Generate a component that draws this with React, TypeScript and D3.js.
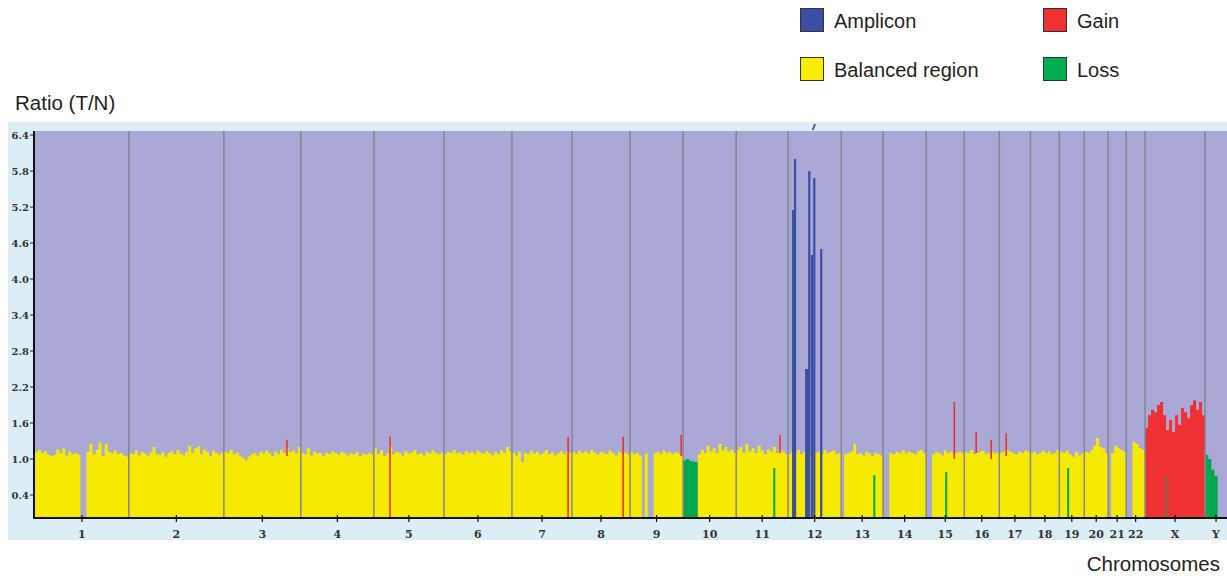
import React from 'react';
import * as d3 from 'd3';

// chromosome order and (approximate, as drawn) lengths in Mb
const chromosomes = ['1', '2', '3', '4', '5', '6', '7', '8', '9', '10', '11', '12', '13', '14', '15', '16', '17', '18', '19', '20', '21', '22', 'X', 'Y'];
const chromLengthMb = [244, 247, 200, 190, 182, 177, 156, 151, 138, 138, 135, 138, 109, 112, 99, 91, 81, 75, 65, 62, 47, 49, 156, 57];

// T/N ratio per evenly spaced bin along each chromosome (0 = no probes)
const binRatios: number[][] = [
  [1.12, 1.15, 1.10, 1.13, 1.08, 1.05, 1.07, 1.16, 1.10, 1.18, 1.06, 1.12, 1.08, 1.10, 1.07, 0, 0, 1.12, 1.26, 1.08, 1.15, 1.27, 1.05, 1.25, 1.12, 1.10, 1.14, 1.08, 1.10, 1.06, 1.04],
  [1.10, 1.08, 1.14, 1.06, 1.12, 1.09, 1.05, 1.11, 1.20, 1.08, 1.07, 1.12, 1.04, 1.10, 1.13, 1.08, 1.15, 1.09, 1.06, 1.12, 1.22, 1.10, 1.18, 1.21, 1.08, 1.16, 1.12, 1.05, 1.14, 1.10, 1.07, 1.11],
  [1.12, 1.10, 1.15, 1.08, 1.11, 1.06, 1.02, 0.98, 1.04, 1.08, 1.10, 1.06, 1.12, 1.09, 1.14, 1.10, 1.05, 1.12, 1.08, 1.16, 1.10, 1.18, 1.12, 1.14, 1.09, 1.20],
  [1.10, 1.08, 1.18, 1.06, 1.12, 1.09, 1.10, 1.05, 1.11, 1.08, 1.13, 1.10, 1.07, 1.12, 1.09, 1.06, 1.10, 1.08, 1.12, 1.05, 1.09, 1.07, 1.10, 1.08],
  [1.18, 1.08, 1.14, 1.05, 1.10, 1.20, 1.08, 1.12, 1.10, 1.06, 1.13, 1.09, 1.11, 1.15, 1.08, 1.10, 1.06, 1.12, 1.09, 1.14, 1.10, 1.08, 1.11],
  [1.08, 1.12, 1.10, 1.15, 1.09, 1.11, 1.07, 1.13, 1.10, 1.12, 1.08, 1.14, 1.11, 1.09, 1.13, 1.10, 1.06, 1.12, 1.08, 1.15, 1.10, 1.20, 1.12],
  [1.10, 1.06, 1.12, 0.95, 1.10, 1.08, 1.14, 1.09, 1.12, 1.07, 1.10, 1.15, 1.08, 1.11, 1.06, 1.10, 1.13, 1.08, 1.12, 1.10],
  [1.12, 1.08, 1.14, 1.10, 1.13, 1.09, 1.15, 1.11, 1.07, 1.12, 1.10, 1.08, 1.14, 1.10, 1.06, 1.12, 1.09, 1.11, 1.08],
  [1.12, 1.08, 1.10, 1.06, 0, 1.09, 0, 0, 1.10, 1.12, 1.08, 1.14, 1.10, 1.12, 1.08, 1.11, 1.09, 1.10],
  [0.98, 1.0, 0.97, 0.96, 0.95, 1.08, 1.15, 1.10, 1.22, 1.12, 1.18, 1.10, 1.25, 1.14, 1.20, 1.12, 1.16, 1.10],
  [1.15, 1.20, 1.10, 1.25, 1.12, 1.18, 1.10, 1.22, 1.14, 1.08, 1.16, 1.12, 1.20, 1.10, 1.15, 1.12, 1.08],
  [1.08, 1.12, 1.10, 1.15, 1.08, 1.12, 1.10, 1.06, 1.14, 1.10, 1.12, 1.08, 1.15, 1.10, 1.12, 1.14, 1.08, 1.10],
  [0, 1.08, 1.10, 1.12, 1.25, 1.08, 1.10, 1.06, 1.12, 1.09, 1.05, 1.10, 1.08, 1.06],
  [0, 0, 1.10, 1.08, 1.12, 1.10, 1.14, 1.09, 1.12, 1.10, 1.08, 1.13, 1.15, 1.10],
  [0, 0, 1.08, 1.12, 1.10, 1.06, 1.14, 1.10, 1.12, 1.08, 1.10, 1.12, 1.09],
  [1.12, 1.10, 1.15, 1.08, 1.10, 1.12, 1.14, 1.08, 1.10, 1.12, 1.09, 1.11],
  [1.10, 1.12, 1.15, 1.12, 1.10, 1.08, 1.12, 1.10, 1.14, 1.12],
  [1.10, 1.12, 1.08, 1.10, 1.14, 1.10, 1.12, 1.08, 1.10, 1.15],
  [1.12, 1.10, 1.14, 1.08, 1.04, 1.12, 1.06, 1.10],
  [1.12, 1.10, 1.15, 1.22, 1.35, 1.20, 1.18, 1.10],
  [0, 1.10, 1.22, 1.18, 1.15, 1.12],
  [0, 0, 1.28, 1.25, 1.18, 1.15],
  [1.52, 1.73, 1.82, 1.78, 1.90, 1.95, 1.73, 1.48, 1.65, 1.45, 1.73, 1.57, 1.85, 1.78, 1.68, 1.90, 1.98, 1.82, 1.95, 1.73],
  [1.07, 1.0, 0.82, 0.72, 0, 0, 0],
];

// called segments (everything else is balanced)
const gainSegments = [{ chr: 'X', start: 0, end: 156 }];
const lossSegments = [{ chr: '10', start: 0, end: 37 }, { chr: 'Y', start: 0, end: 57 }];

// single-probe calls
const gainSpikes = [
  { chr: '3', mb: 164, from: 1.05, to: 1.32 },
  { chr: '5', mb: 42, from: 0, to: 1.37 },
  { chr: '7', mb: 146, from: 0, to: 1.37 },
  { chr: '8', mb: 133, from: 0, to: 1.37 },
  { chr: '9', mb: 133, from: 1.05, to: 1.4 },
  { chr: '11', mb: 114, from: 1.1, to: 1.4 },
  { chr: '15', mb: 73, from: 1.0, to: 1.95 },
  { chr: '16', mb: 31, from: 1.1, to: 1.45 },
  { chr: '16', mb: 70, from: 1.0, to: 1.32 },
  { chr: '17', mb: 18, from: 1.05, to: 1.43 },
];
const lossSpikes = [
  { chr: '11', mb: 99, to: 0.85 },
  { chr: '13', mb: 86, to: 0.73 },
  { chr: '15', mb: 52, to: 0.78 },
  { chr: '19', mb: 23, to: 0.85 },
  { chr: 'X', mb: 57, to: 0.73 },
];
const amplicons = [
  { chr: '12', mb: 13, ratio: 5.15 },
  { chr: '12', mb: 18, ratio: 6.0 },
  { chr: '12', mb: 47, ratio: 2.5 },
  { chr: '12', mb: 51, ratio: 2.5 },
  { chr: '12', mb: 55, ratio: 5.8 },
  { chr: '12', mb: 62, ratio: 4.4 },
  { chr: '12', mb: 68, ratio: 5.68 },
  { chr: '12', mb: 86, ratio: 4.5 },
];

const yTicks = [0.4, 1.0, 1.6, 2.2, 2.8, 3.4, 4.0, 4.6, 5.2, 5.8, 6.4];

const legendItems = [
  { label: 'Amplicon', color: '#3a4fa3', col: 0, row: 0 },
  { label: 'Gain', color: '#ee3133', col: 1, row: 0 },
  { label: 'Balanced region', color: '#f8ec00', col: 0, row: 1 },
  { label: 'Loss', color: '#00ad4e', col: 1, row: 1 },
];

const COLORS = {
  bg: '#aaa8d5',
  panel: '#dbeef6',
  balanced: '#f6ea00',
  gain: '#ee3133',
  loss: '#00a84f',
  amp: '#3a4fa3',
  divider: '#85849a',
};

export default function App() {
  const W = 1227;
  const H = 576;
  const plot = { left: 35, right: 1227, top: 131, bottom: 518 };

  const offsets = chromLengthMb.reduce<number[]>((acc, len, i) => {
    acc.push(i === 0 ? 0 : acc[i - 1] + chromLengthMb[i - 1]);
    return acc;
  }, []);
  const total = d3.sum(chromLengthMb);
  const offsetOf = (chr: string) => offsets[chromosomes.indexOf(chr)];

  const x = d3.scaleLinear().domain([0, total]).range([plot.left, plot.right]);
  const y = d3.scaleLinear().domain([0, 6.4]).range([519, 135]);

  const inSeg = (segs: { chr: string; start: number; end: number }[], chr: string, mb: number) =>
    segs.some(s => s.chr === chr && mb >= s.start && mb <= s.end);

  // group consecutive bins of the same call into runs, each drawn as one step area
  type Pt = { pos: number; v: number };
  const runs: { color: string; pts: Pt[] }[] = [];
  chromosomes.forEach((chr, ci) => {
    const vals = binRatios[ci];
    const bw = chromLengthMb[ci] / vals.length;
    let cur: { color: string; pts: Pt[] } | null = null;
    vals.forEach((v, i) => {
      const mid = (i + 0.5) * bw;
      let color = COLORS.balanced;
      if (inSeg(gainSegments, chr, mid)) color = COLORS.gain;
      if (inSeg(lossSegments, chr, mid)) color = COLORS.loss;
      if (!v) { cur = null; return; }
      const start = offsets[ci] + i * bw;
      if (!cur || cur.color !== color) {
        if (cur) cur.pts.push({ pos: start, v: cur.pts[cur.pts.length - 1].v });
        cur = { color, pts: [] };
        runs.push(cur);
      }
      cur.pts.push({ pos: start, v });
      const next = vals[i + 1];
      if (!next || i === vals.length - 1) cur.pts.push({ pos: start + bw, v });
    });
  });

  const area = d3.area<Pt>()
    .x(d => x(d.pos))
    .y0(plot.bottom)
    .y1(d => y(d.v))
    .curve(d3.curveStepAfter);

  const font = "'Liberation Sans', Arial, sans-serif";
  const tickFont = "'DejaVu Serif', serif";

  return (
    <svg width={W} height={H} style={{ position: 'absolute', left: 0, top: 0 }}>
      {/* legend */}
      {legendItems.map(d => {
        const lx = 800 + d.col * 243;
        const ly = 8 + d.row * 49;
        return (
          <g key={d.label}>
            <rect x={lx + 0.5} y={ly + 0.5} width={23} height={23} fill={d.color} stroke="#333" strokeWidth={1} />
            <text x={lx + 34} y={ly + 20} fontFamily={font} fontSize={20} fill="#231f20">{d.label}</text>
          </g>
        );
      })}

      <text x={15} y={110} fontFamily={font} fontSize={20.5} fill="#231f20">Ratio (T/N)</text>
      <text x={1220} y={571} textAnchor="end" fontFamily={font} fontSize={20.5} fill="#231f20">Chromosomes</text>

      {/* chart panel */}
      <rect x={8} y={122} width={W - 8} height={418} fill={COLORS.panel} />
      <rect x={plot.left} y={plot.top} width={plot.right - plot.left} height={plot.bottom - plot.top} fill={COLORS.bg} />

      {/* binned ratios */}
      <g>
        {runs.map((r, i) => (
          <path key={i} d={area(r.pts) || ''} fill={r.color} />
        ))}
      </g>

      {/* chromosome dividers */}
      {offsets.slice(1).map((o, i) => (
        <line key={i} x1={x(o)} x2={x(o)} y1={plot.top} y2={plot.bottom} stroke={COLORS.divider} strokeWidth={1.5} />
      ))}

      {/* single-probe calls */}
      {gainSpikes.map((d, i) => {
        const cx = x(offsetOf(d.chr) + d.mb);
        return <rect key={'g' + i} x={cx - 0.8} y={y(d.to)} width={1.6} height={(d.from ? y(d.from) : plot.bottom) - y(d.to)} fill={COLORS.gain} />;
      })}
      {lossSpikes.map((d, i) => {
        const cx = x(offsetOf(d.chr) + d.mb);
        const onGain = inSeg(gainSegments, d.chr, d.mb);
        return <rect key={'l' + i} x={cx - 1} y={y(d.to)} width={2} height={plot.bottom - y(d.to)} fill={COLORS.loss} opacity={onGain ? 0.5 : 1} />;
      })}
      {amplicons.map((d, i) => {
        const cx = x(offsetOf(d.chr) + d.mb);
        return <rect key={'a' + i} x={cx - 1.1} y={y(d.ratio)} width={2.2} height={plot.bottom - y(d.ratio)} fill={COLORS.amp} />;
      })}
      {/* off-scale marker above chromosome 12 */}
      <line x1={x(offsetOf('12') + 64)} y1={130} x2={x(offsetOf('12') + 70)} y2={124} stroke="#4a5a9a" strokeWidth={2} />

      {/* y axis */}
      <line x1={34} x2={34} y1={plot.top} y2={plot.bottom + 1} stroke="#111" strokeWidth={2} />
      {yTicks.map(t => (
        <g key={t}>
          <line x1={30} x2={34} y1={y(t)} y2={y(t)} stroke="#222" strokeWidth={1} />
          <text x={29} y={y(t) + 3.5} textAnchor="end" fontFamily={tickFont} fontWeight="bold" fontSize={10} fill="#333">{t.toFixed(1)}</text>
        </g>
      ))}

      {/* x axis */}
      <line x1={33} x2={W} y1={plot.bottom} y2={plot.bottom} stroke="#111" strokeWidth={2} />
      {chromosomes.map((c, i) => {
        const cx = x(offsets[i] + chromLengthMb[i] / 2);
        return (
          <g key={c}>
            <line x1={cx} x2={cx} y1={plot.bottom - 3} y2={plot.bottom + 4} stroke="#111" strokeWidth={1.2} />
            <text x={cx} y={538} textAnchor="middle" fontFamily={tickFont} fontWeight="bold" fontSize={11} fill="#333">{c}</text>
          </g>
        );
      })}
    </svg>
  );
}
